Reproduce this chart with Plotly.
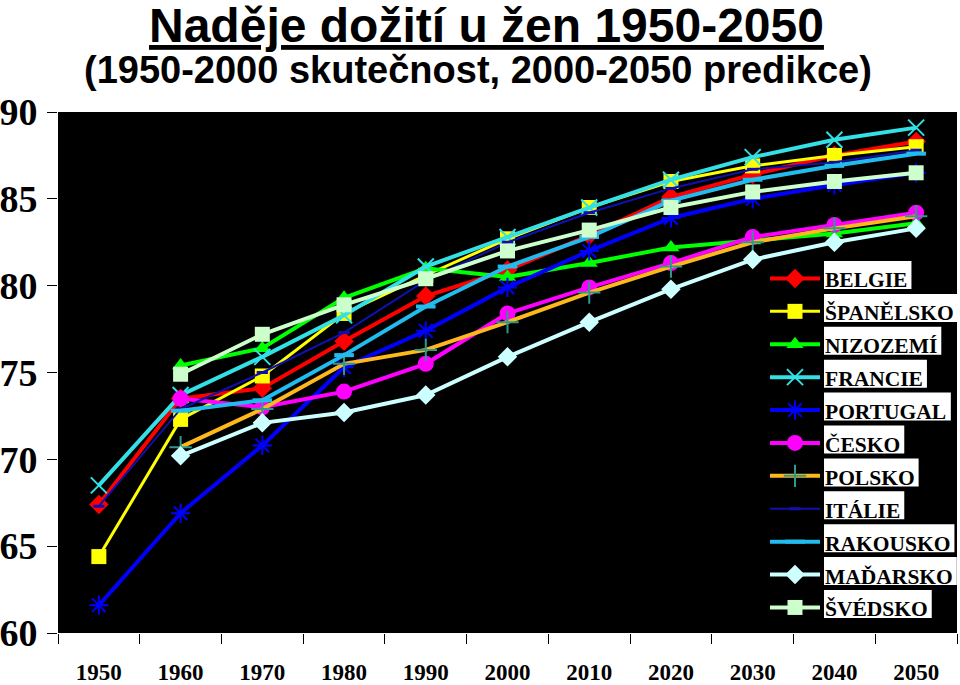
import plotly.graph_objects as go

years = ["1950", "1960", "1970", "1980", "1990", "2000", "2010", "2020", "2030", "2040", "2050"]

belgie = [67.4, 73.5, 74.1, 76.8, 79.4, 80.9, 82.9, 85.1, 86.4, 87.5, 88.3]
spanelsko = [64.4, 72.3, 74.8, 78.4, 80.6, 82.7, 84.5, 86.0, 86.9, 87.5, 88.0]
nizozemi = [None, 75.4, 76.4, 79.3, 81.0, 80.5, 81.3, 82.2, 82.6, 83.0, 83.6]
francie = [68.5, 73.7, 75.9, 78.3, 81.1, 82.8, 84.5, 86.1, 87.4, 88.4, 89.1]
portugal = [61.6, 66.9, 70.8, 75.3, 77.4, 79.9, 82.0, 83.9, 85.0, 85.8, 86.5]
cesko = [None, 73.5, 73.0, 73.9, 75.5, 78.4, 79.9, 81.3, 82.8, 83.5, 84.2]
polsko = [None, 70.7, 72.9, 75.5, 76.3, 77.9, 79.6, 81.1, 82.5, 83.3, 84.0]
italie = [67.3, 72.9, 75.0, 77.3, 80.3, 82.5, 84.2, 85.6, 86.7, 87.1, 87.8]
rakousko = [None, 72.8, 73.4, 76.0, 78.8, 81.1, 82.8, 84.9, 86.1, 86.9, 87.6]
madarsko = [None, 70.2, 72.1, 72.7, 73.7, 75.9, 77.9, 79.8, 81.5, 82.5, 83.3]
svedsko = [None, 74.9, 77.2, 78.9, 80.4, 82.0, 83.2, 84.5, 85.4, 86.0, 86.5]

names = ["BELGIE", "ŠPANĚLSKO", "NIZOZEMÍ", "FRANCIE", "PORTUGAL", "ČESKO",
         "POLSKO", "ITÁLIE", "RAKOUSKO", "MAĎARSKO", "ŠVÉDSKO"]
series = [belgie, spanelsko, nizozemi, francie, portugal, cesko,
          polsko, italie, rakousko, madarsko, svedsko]

styles = [
    dict(color="#FF0000", width=4, symbol="diamond", msize=15, mcolor="#FF0000", mline=0),
    dict(color="#FFFF00", width=3, symbol="square", msize=15, mcolor="#FFFF00", mline=0),
    dict(color="#00FF00", width=4, symbol="triangle-up", msize=15, mcolor="#00FF00", mline=0),
    dict(color="#33E0E6", width=4, symbol="x-thin-open", msize=16, mcolor="#33E0E6", mline=2),
    dict(color="#0000FF", width=4, symbol="asterisk-open", msize=16, mcolor="#0000FF", mline=2),
    dict(color="#FF00FF", width=4, symbol="circle", msize=16, mcolor="#FF00FF", mline=0),
    dict(color="#FFB81C", width=4, symbol="cross-thin-open", msize=16, mcolor="#2E9A8E", mline=2),
    dict(color="#1010B0", width=2, symbol="line-ew-open", msize=8, mcolor="#1010B0", mline=3),
    dict(color="#22BBEE", width=4, symbol="line-ew-open", msize=14, mcolor="#22BBEE", mline=4),
    dict(color="#CCFFFF", width=4, symbol="diamond", msize=15, mcolor="#CCFFFF", mline=0),
    dict(color="#CCFFCC", width=4, symbol="square", msize=15, mcolor="#CCFFCC", mline=0),
]

LEG_TXT = 21.5
fig = go.Figure()
for name, vals, st in zip(names, series, styles):
    fig.add_trace(go.Scatter(
        x=years, y=vals, name="<span style='font-size:%spx'>%s</span>" % (LEG_TXT, name),
        mode="lines+markers",
        line=dict(color=st["color"], width=st["width"]),
        marker=dict(symbol=st["symbol"], size=st["msize"], color=st["mcolor"],
                    line=dict(color=st["mcolor"], width=st["mline"])),
        connectgaps=False,
    ))

# plot area in pixels: x 58..957, y 112..633
PX_L, PX_R, PX_T, PX_B = 58, 957, 112, 633
def px_to_paper_x(px):
    return (px - PX_L) / (PX_R - PX_L)
def px_to_paper_y(py):
    return (PX_B - py) / (PX_B - PX_T)

annotations = [
    dict(text="<b><u>Naděje dožití u žen 1950-2050</u></b>", x=px_to_paper_x(486), y=px_to_paper_y(25),
         xref="paper", yref="paper", xanchor="center", yanchor="middle", showarrow=False,
         font=dict(family="Liberation Sans", size=48, color="black")),
    dict(text="<b>(1950-2000 skutečnost, 2000-2050 predikce)</b>", x=px_to_paper_x(478), y=px_to_paper_y(70),
         xref="paper", yref="paper", xanchor="center", yanchor="middle", showarrow=False,
         font=dict(family="Liberation Sans", size=38, color="black")),
]

# white boxes behind legend labels (Times/Liberation Serif Bold advance widths)
CW = {"A": .722, "B": .667, "C": .722, "D": .722, "E": .667, "F": .611, "G": .778, "I": .389,
      "K": .778, "L": .667, "M": .944, "N": .722, "O": .778, "P": .611, "R": .722, "S": .556,
      "T": .667, "U": .722, "V": .722, "Z": .667, "Š": .556, "Ě": .667, "Í": .389, "Č": .722,
      "Á": .722, "Ď": .722, "É": .667}
legend_top = 275
legend_step = 32.9
TEXT_X = 824
shapes = []
for i, name in enumerate(names):
    w = sum(CW.get(c, .7) for c in name) * LEG_TXT
    yc = legend_top + legend_step * i
    shapes.append(dict(type="rect", xref="paper", yref="paper", layer="above",
                       x0=px_to_paper_x(TEXT_X), x1=px_to_paper_x(TEXT_X + w + 5),
                       y0=px_to_paper_y(yc + 14), y1=px_to_paper_y(yc - 14),
                       fillcolor="white", line=dict(width=0)))

fig.update_layout(
    width=960, height=685,
    margin=dict(l=PX_L, r=960 - PX_R, t=PX_T, b=685 - PX_B, pad=0, autoexpand=False),
    paper_bgcolor="white", plot_bgcolor="black",
    showlegend=True,
    legend=dict(x=px_to_paper_x(765), y=px_to_paper_y(257), xanchor="left", yanchor="top",
                bgcolor="rgba(0,0,0,0)", borderwidth=0, itemwidth=50,
                font=dict(family="Liberation Serif", size=23, color="black", weight="bold"),
                tracegroupgap=0),
    annotations=annotations,
    shapes=shapes,
    xaxis=dict(type="category", tickson="boundaries", ticks="outside", ticklen=10, tickcolor="black",
               tickwidth=1, showgrid=False, zeroline=False, showline=False, automargin=False,
               tickfont=dict(family="Liberation Serif", size=23, color="black", weight="bold"),
               ticklabelstandoff=23, range=[-0.5, 10.5]),
    yaxis=dict(range=[60, 90], tickvals=[60, 65, 70, 75, 80, 85, 90], ticks="outside", ticklen=10,
               tickcolor="black", tickwidth=1, showgrid=False, zeroline=False, showline=False,
               automargin=False,
               tickfont=dict(family="Liberation Serif", size=38, color="black", weight="bold"),
               ticklabelstandoff=2),
)

fig.write_html("out.html", config={"displayModeBar": False},
               post_script="document.body.style.margin='0';")
